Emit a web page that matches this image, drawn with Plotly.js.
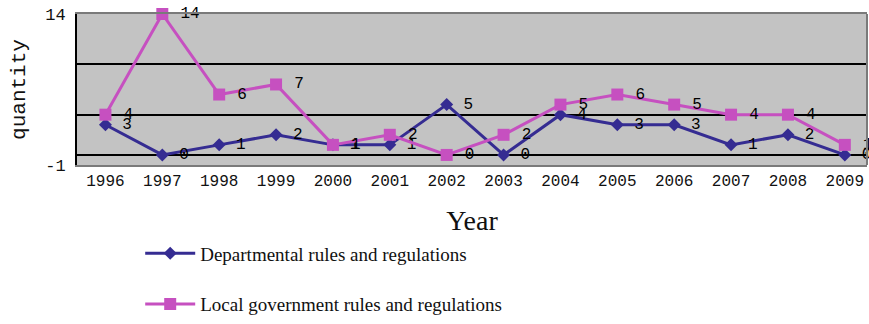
<!DOCTYPE html>
<html>
<head>
<meta charset="utf-8">
<script src="https://cdn.plot.ly/plotly-3.0.1.min.js"></script>
<style>html,body{margin:0;padding:0;background:#fff;}#chart{width:869px;height:324px;}</style>
</head>
<body>
<div id="chart"></div>
<script>
const years = [1996,1997,1998,1999,2000,2001,2002,2003,2004,2005,2006,2007,2008,2009];
const departmental = [3,0,1,2,1,1,5,0,4,3,3,1,2,0];
const localGov = [4,14,6,7,1,2,0,2,5,6,5,4,4,1];
const seriesNames = ['Departmental rules and regulations','Local government rules and regulations'];
const yTickVals = [-1, 14];
const yTickText = ['-1', '14'];
const yGridVals = [4, 9];
const boundaryVals = years.slice(0, -1).map(y => y + 0.5);

const xRange = [1995.5, 2009.39];
const yRange = [-1, 14];
const labelFont = {family: 'Liberation Mono', size: 16, color: '#000'};

const traces = [
  {
    x: years, y: departmental, name: seriesNames[0], type: 'scatter', mode: 'lines+markers+text',
    line: {color: '#352c92', width: 3},
    marker: {symbol: 'diamond', size: 10, color: '#352c92'},
    text: departmental.map(String), texttemplate: '\u00a0%{text}', textposition: 'middle right',
    textfont: labelFont, legendgroup: 'a', cliponaxis: false, hoverinfo: 'x+y'
  },
  {
    x: years, y: localGov, name: seriesNames[1], type: 'scatter', mode: 'lines+markers+text',
    line: {color: '#c650c0', width: 3},
    marker: {symbol: 'square', size: 12, color: '#c650c0'},
    text: localGov.map(String), texttemplate: '\u00a0%{text}', textposition: 'middle right',
    textfont: labelFont, legendgroup: 'b', cliponaxis: false, hoverinfo: 'x+y'
  }
];

const layout = {
  width: 869, height: 324,
  margin: {l: 77, r: 2, t: 14, b: 159, autoexpand: false},
  paper_bgcolor: '#ffffff',
  plot_bgcolor: '#c3c3c3',
  showlegend: true,
  legend: {
    x: 0.08, xanchor: 'left', y: -0.46, yanchor: 'top',
    font: {family: 'Liberation Serif', size: 19, color: '#111'},
    itemwidth: 50,
    traceorder: 'grouped', tracegroupgap: 23, bgcolor: 'rgba(0,0,0,0)'
  },
  xaxis: {
    range: xRange, tickvals: years, ticktext: years.map(String),
    showgrid: false, zeroline: false, ticks: '', ticklabelstandoff: 0,
    tickfont: {family: 'Liberation Mono', size: 16, color: '#111'},
    showline: true, linecolor: '#7a7a7a', linewidth: 2, mirror: true,
    title: {text: 'Year', font: {family: 'Liberation Serif', size: 28, color: '#111'}, standoff: 20}
  },
  xaxis2: {
    overlaying: 'x', anchor: 'free', position: 1/15, range: xRange,
    tickvals: boundaryVals, ticks: 'inside', ticklen: 5, tickwidth: 2, tickcolor: '#000',
    showticklabels: false, showgrid: false, zeroline: false, showline: false
  },
  yaxis: {
    range: yRange, tickvals: yTickVals, ticktext: yTickText,
    ticks: 'inside', ticklen: 9, tickwidth: 2, tickcolor: '#000', ticklabelstandoff: 6,
    tickfont: {family: 'Liberation Mono', size: 17, color: '#111'},
    showgrid: false,
    minor: {tickvals: yGridVals, showgrid: true, gridcolor: '#000', gridwidth: 2, ticks: ''},
    zeroline: true, zerolinecolor: '#000', zerolinewidth: 2,
    showline: true, linecolor: '#000', linewidth: 2,
    title: {text: 'quantity', font: {family: 'Liberation Mono', size: 21, color: '#111'}, standoff: 14}
  },
  shapes: [
    {type: 'line', xref: 'paper', yref: 'paper', x0: 1, x1: 1, y0: 0, y1: 1, line: {color: '#7a7a7a', width: 2}}
  ]
};

Plotly.newPlot('chart', traces, layout, {staticPlot: true});
</script>
</body>
</html>
